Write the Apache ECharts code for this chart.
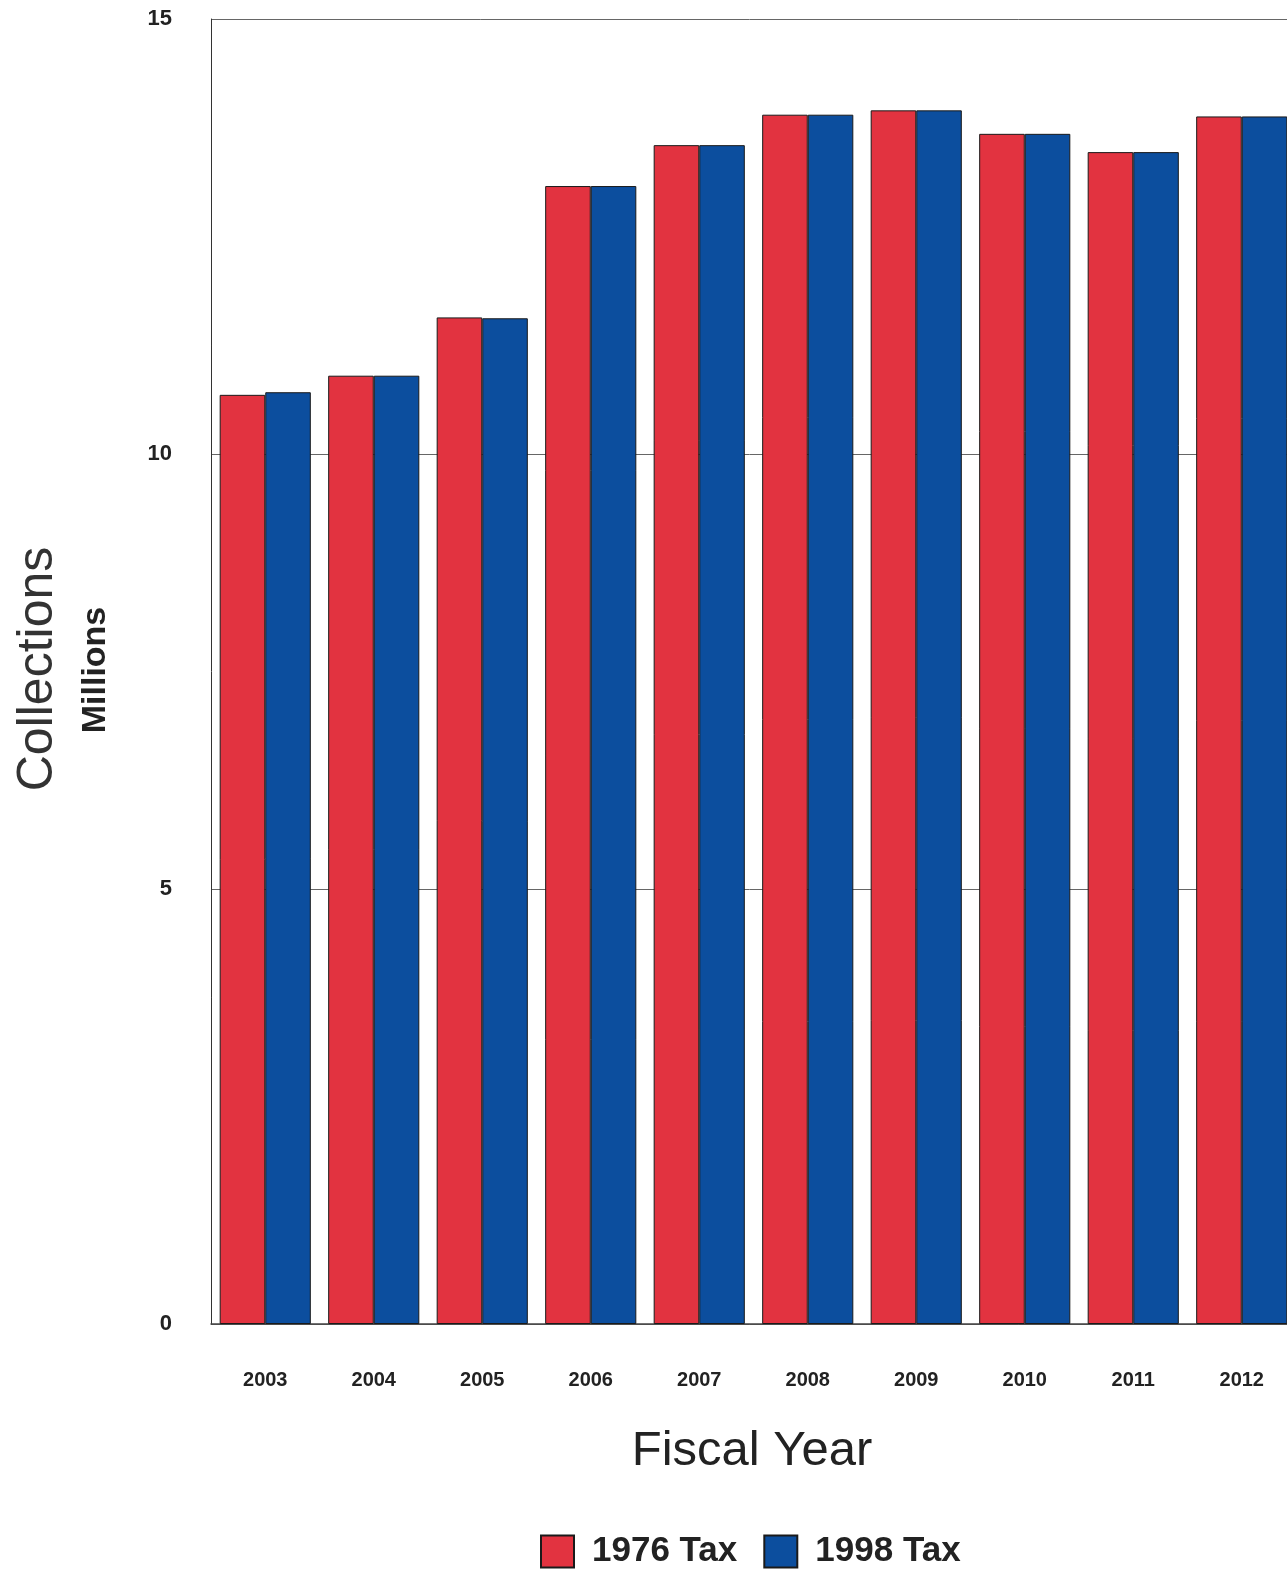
<!DOCTYPE html>
<html>
<head>
<meta charset="utf-8">
<script src="https://cdn.jsdelivr.net/npm/echarts@6/dist/echarts.min.js"></script>
<style>
html,body{margin:0;padding:0;background:#fff;}
#chart{width:1287px;height:1574px;}
</style>
</head>
<body>
<div id="chart"></div>
<script>
const years = ['2003','2004','2005','2006','2007','2008','2009','2010','2011','2012'];
const tax1976 = [10.68, 10.90, 11.57, 13.08, 13.55, 13.90, 13.95, 13.68, 13.47, 13.88];
const tax1998 = [10.71, 10.90, 11.56, 13.08, 13.55, 13.90, 13.95, 13.68, 13.47, 13.88];
const seriesNames = ['1976 Tax', '1998 Tax'];
const yTicks = { min: 0, max: 15, interval: 5 };

const FONT = '"Liberation Sans", Arial, sans-serif';
const chart = echarts.init(document.getElementById('chart'));
chart.setOption({
  animation: false,
  backgroundColor: '#ffffff',
  grid: { left: 211, width: 1085, top: 19, bottom: 250, containLabel: false, outerBoundsMode: 'none' },
  legend: {
    data: seriesNames,
    left: 535,
    top: 1529,
    itemWidth: 33,
    itemHeight: 32,
    itemGap: 26,
    icon: 'rect',
    textStyle: { fontFamily: FONT, fontSize: 35, fontWeight: 'bold', color: '#222', padding: [0, 0, 0, 13] }
  },
  xAxis: {
    type: 'category',
    data: years,
    name: 'Fiscal Year',
    nameLocation: 'middle',
    nameGap: 103,
    nameTextStyle: { fontFamily: FONT, fontSize: 49, color: '#222', padding: [0, 3, 0, 0] },
    axisLine: { show: true, lineStyle: { color: '#444', width: 1.5 } },
    axisTick: { show: false },
    axisLabel: { fontFamily: FONT, fontSize: 20, fontWeight: 'bold', color: '#222', margin: 46 }
  },
  yAxis: {
    type: 'value',
    min: yTicks.min,
    max: yTicks.max,
    interval: yTicks.interval,
    axisLine: { show: true, lineStyle: { color: '#333', width: 1 } },
    axisTick: { show: false },
    splitLine: { show: true, lineStyle: { color: '#666', width: 1 } },
    axisLabel: { fontFamily: FONT, fontSize: 22, fontWeight: 'bold', color: '#222', margin: 39 }
  },
  graphic: [
    {
      type: 'text', x: 38, y: 669, rotation: Math.PI / 2,
      style: { text: 'Collections', font: '50px ' + FONT, fill: '#333', align: 'center', verticalAlign: 'middle' }
    },
    {
      type: 'text', x: 96, y: 670, rotation: Math.PI / 2,
      style: { text: 'Millions', font: 'bold 34px ' + FONT, fill: '#222', align: 'center', verticalAlign: 'middle' }
    }
  ],
  series: [
    {
      name: seriesNames[0], type: 'bar', data: tax1976,
      barGap: '0%', barCategoryGap: '16%',
      itemStyle: { color: '#E23340', borderColor: '#1a1a1a', borderWidth: 1 }
    },
    {
      name: seriesNames[1], type: 'bar', data: tax1998,
      barGap: '0%', barCategoryGap: '16%',
      itemStyle: { color: '#0C4E9E', borderColor: '#1a1a1a', borderWidth: 1 }
    }
  ]
});
</script>
</body>
</html>
